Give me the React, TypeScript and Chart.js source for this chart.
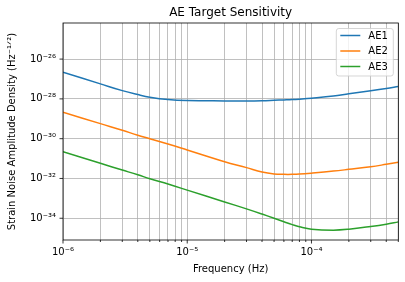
import React, { useEffect, useRef } from 'react';
import { Chart, registerables } from 'chart.js';

Chart.register(...registerables);

const FREQ = [1e-6, 2e-6, 3e-6, 4e-6, 5e-6, 7e-6, 1e-5, 2e-5, 3e-5, 4e-5, 5e-5, 6e-5, 7e-5, 8e-5, 1e-4, 1.5e-4, 2e-4, 3e-4, 4e-4, 5e-4];
const AE1 = [2.21e-27, 5.69e-28, 2.6e-28, 1.65e-28, 1.22e-28, 9.23e-29, 8.2e-29, 7.94e-29, 7.94e-29, 8.13e-29, 8.5e-29, 8.85e-29, 9.2e-29, 9.7e-29, 1.08e-28, 1.38e-28, 1.79e-28, 2.53e-28, 3.3e-28, 4.17e-28];
const AE2 = [2.14e-29, 5.69e-30, 2.65e-30, 1.48e-30, 1.0e-30, 5.41e-31, 2.7e-31, 6.93e-32, 3.5e-32, 2.1e-32, 1.68e-32, 1.61e-32, 1.61e-32, 1.66e-32, 1.85e-32, 2.34e-32, 2.87e-32, 3.88e-32, 5.14e-32, 6.47e-32];
const AE3 = [2.22e-31, 5.77e-32, 2.65e-32, 1.53e-32, 9.64e-33, 5.22e-33, 2.6e-33, 6.6e-34, 2.95e-34, 1.62e-34, 1.0e-34, 6.7e-35, 4.8e-35, 3.75e-35, 2.82e-35, 2.52e-35, 2.82e-35, 3.86e-35, 5.05e-35, 6.58e-35];
const SERIES_LABELS = ['AE1', 'AE2', 'AE3'];
const SERIES_COLORS = ['#1f77b4', '#ff7f0e', '#2ca02c'];

const X_MAJOR_TICKS = [1e-6, 1e-5, 1e-4];
const X_MAJOR_LABELS = ['10⁻⁶', '10⁻⁵', '10⁻⁴'];
const X_MINOR_TICKS = [2e-6, 3e-6, 4e-6, 5e-6, 6e-6, 7e-6, 8e-6, 9e-6, 2e-5, 3e-5, 4e-5, 5e-5, 6e-5, 7e-5, 8e-5, 9e-5, 2e-4, 3e-4, 4e-4, 5e-4];
const Y_TICKS = [1e-34, 1e-32, 1e-30, 1e-28, 1e-26];
const Y_TICK_LABELS = ['10⁻³⁴', '10⁻³²', '10⁻³⁰', '10⁻²⁸', '10⁻²⁶'];

const FONT = 'DejaVu Sans';

function nearIdx(arr: number[], v: number) {
  for (let i = 0; i < arr.length; i++) {
    if (Math.abs(arr[i] - v) / arr[i] < 1e-6) return i;
  }
  return -1;
}

const framePlugin = {
  id: 'mplFrame',
  afterDatasetsDraw(chart: any) {
    const { ctx, chartArea } = chart;
    const xs = chart.scales.x;
    const ys = chart.scales.y;
    ctx.save();
    ctx.strokeStyle = '#000';
    ctx.lineWidth = 0.8;
    ctx.strokeRect(chartArea.left, chartArea.top, chartArea.right - chartArea.left, chartArea.bottom - chartArea.top);
    ctx.beginPath();
    X_MAJOR_TICKS.forEach((v) => {
      const px = xs.getPixelForValue(v);
      ctx.moveTo(px, chartArea.bottom);
      ctx.lineTo(px, chartArea.bottom + 3.5);
    });
    X_MINOR_TICKS.forEach((v) => {
      const px = xs.getPixelForValue(v);
      ctx.moveTo(px, chartArea.bottom);
      ctx.lineTo(px, chartArea.bottom + 2);
    });
    Y_TICKS.forEach((v) => {
      const py = ys.getPixelForValue(v);
      ctx.moveTo(chartArea.left, py);
      ctx.lineTo(chartArea.left - 3.5, py);
    });
    ctx.stroke();

    // legend
    const right = chartArea.right - 5;
    const top = chartArea.top + 5.5;
    const w = 57;
    const h = 47.5;
    const left = right - w;
    const r = 2.5;
    ctx.beginPath();
    ctx.moveTo(left + r, top);
    ctx.lineTo(right - r, top);
    ctx.arcTo(right, top, right, top + r, r);
    ctx.lineTo(right, top + h - r);
    ctx.arcTo(right, top + h, right - r, top + h, r);
    ctx.lineTo(left + r, top + h);
    ctx.arcTo(left, top + h, left, top + h - r, r);
    ctx.lineTo(left, top + r);
    ctx.arcTo(left, top, left + r, top, r);
    ctx.closePath();
    ctx.fillStyle = 'rgba(255,255,255,0.8)';
    ctx.fill();
    ctx.strokeStyle = 'rgba(204,204,204,0.8)';
    ctx.lineWidth = 1;
    ctx.stroke();
    ctx.font = `10px "${FONT}"`;
    ctx.textBaseline = 'middle';
    ctx.textAlign = 'left';
    chart.data.datasets.forEach((ds: any, i: number) => {
      const cy = top + 7 + i * 15.5;
      ctx.beginPath();
      ctx.strokeStyle = ds.borderColor;
      ctx.lineWidth = 1.5;
      ctx.moveTo(left + 4, cy);
      ctx.lineTo(left + 24, cy);
      ctx.stroke();
      ctx.fillStyle = '#000';
      ctx.fillText(ds.label, left + 32, cy + 0.5);
    });
    ctx.restore();
  },
};

export default function App() {
  const ref = useRef<HTMLCanvasElement>(null);
  useEffect(() => {
    document.body.style.margin = '0';
    const seriesData = [AE1, AE2, AE3];
    const chart = new Chart(ref.current as HTMLCanvasElement, {
      type: 'line',
      data: {
        datasets: seriesData.map((vals, i) => ({
          label: SERIES_LABELS[i],
          data: FREQ.map((f, j) => ({ x: f, y: vals[j] })),
          borderColor: SERIES_COLORS[i],
          backgroundColor: SERIES_COLORS[i],
          borderWidth: 1.5,
          pointRadius: 0,
          fill: false,
          tension: 0.4,
        })),
      },
      options: {
        animation: false,
        responsive: false,
        maintainAspectRatio: false,
        events: [],
        layout: { padding: { left: 0, right: 6.7, top: 0, bottom: 0 } },
        plugins: {
          legend: { display: false },
          tooltip: { enabled: false },
          title: {
            display: true,
            text: 'AE Target Sensitivity',
            fullSize: false,
            color: '#000',
            font: { family: FONT, size: 12, weight: 'normal' },
            padding: { top: 6, bottom: 2.6 },
          },
        },
        scales: {
          x: {
            type: 'logarithmic',
            min: 1e-6,
            max: 5e-4,
            position: 'bottom',
            afterBuildTicks: (s: any) => {
              s.ticks = [...X_MAJOR_TICKS, ...X_MINOR_TICKS].sort((a, b) => a - b).map((v) => ({ value: v }));
            },
            afterFit: (s: any) => {
              s.height = 42;
            },
            ticks: {
              autoSkip: false,
              maxRotation: 0,
              minRotation: 0,
              padding: 6,
              color: '#000',
              font: { family: FONT, size: 10 },
              callback: (v: any) => {
                const i = nearIdx(X_MAJOR_TICKS, Number(v));
                return i >= 0 ? X_MAJOR_LABELS[i] : '';
              },
            },
            grid: { color: '#b0b0b0', lineWidth: 0.8, drawTicks: false },
            border: { display: false },
            title: {
              display: true,
              text: 'Frequency (Hz)',
              color: '#000',
              font: { family: FONT, size: 10 },
              padding: { top: 0, bottom: 7 },
            },
          },
          y: {
            type: 'logarithmic',
            min: 8.07e-36,
            max: 6.52e-25,
            position: 'left',
            afterBuildTicks: (s: any) => {
              s.ticks = Y_TICKS.map((v) => ({ value: v }));
            },
            afterFit: (s: any) => {
              s.width = 63;
            },
            ticks: {
              autoSkip: false,
              padding: 7,
              color: '#000',
              font: { family: FONT, size: 10 },
              callback: (v: any) => {
                const i = nearIdx(Y_TICKS, Number(v));
                return i >= 0 ? Y_TICK_LABELS[i] : '';
              },
            },
            grid: { color: '#b0b0b0', lineWidth: 0.8, drawTicks: false },
            border: { display: false },
            title: {
              display: true,
              text: 'Strain Noise Amplitude Density (Hz⁻¹ᐟ²)',
              color: '#000',
              font: { family: FONT, size: 10 },
              padding: { top: 6.5, bottom: 0 },
            },
          },
        },
      },
      plugins: [framePlugin],
    });
    return () => chart.destroy();
  }, []);
  return (
    <div style={{ width: 405, height: 282, background: '#fff' }}>
      <canvas ref={ref} width={405} height={282} style={{ display: 'block' }} />
    </div>
  );
}
